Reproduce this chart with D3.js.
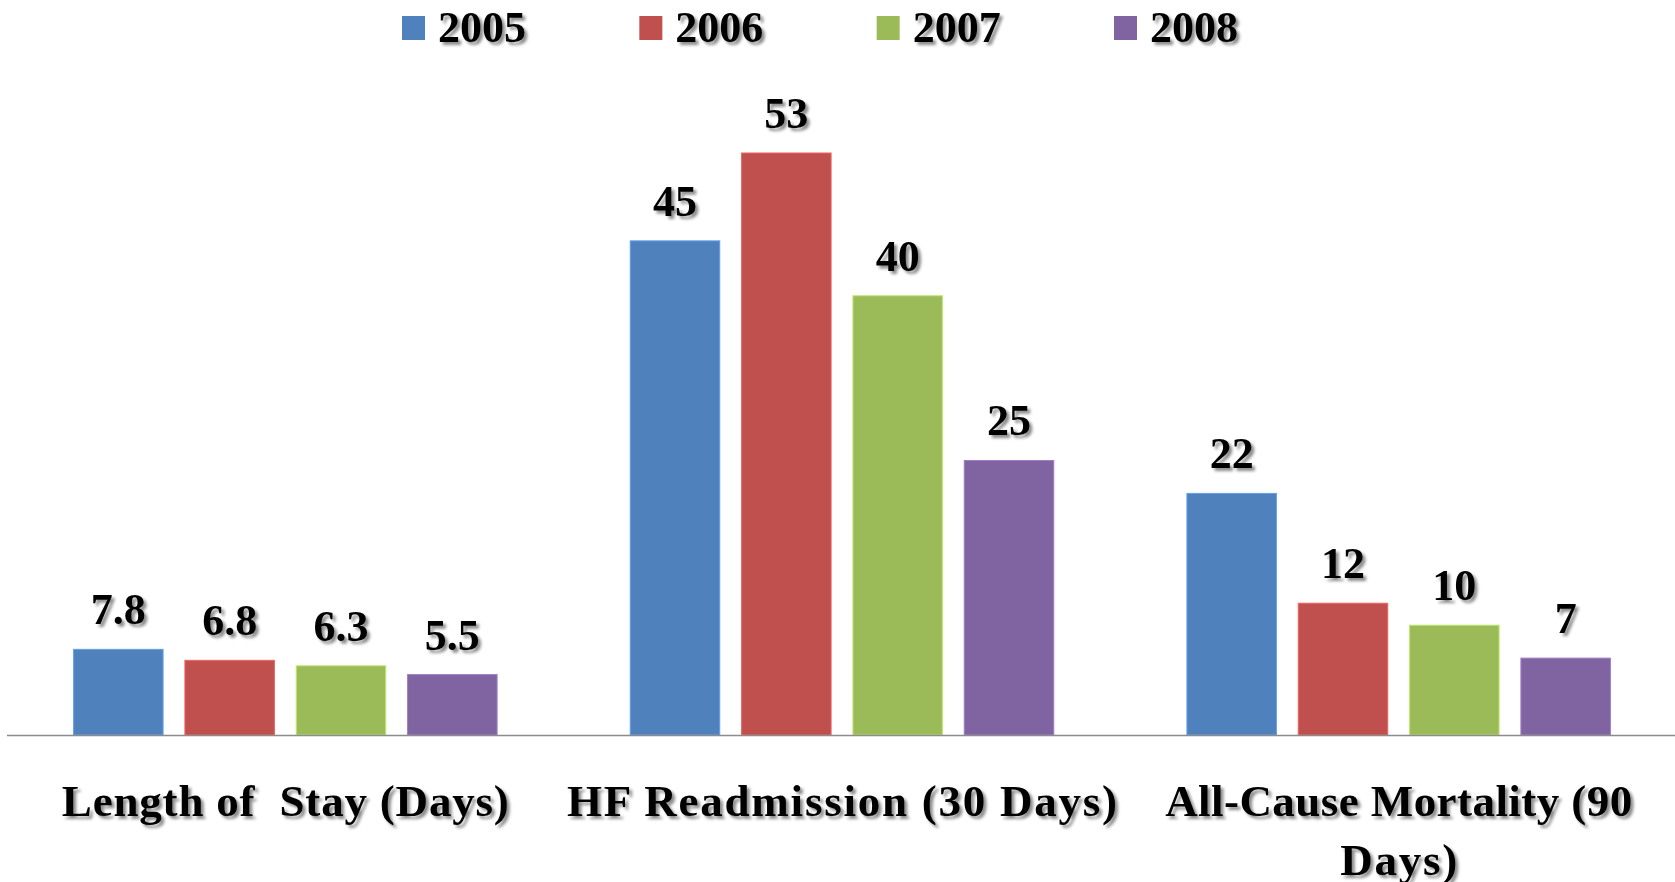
<!DOCTYPE html>
<html>
<head>
<meta charset="utf-8">
<script src="https://cdn.jsdelivr.net/npm/d3@7"></script>
<style>
  html, body { margin: 0; padding: 0; background: #ffffff; }
  svg { display: block; }
  text { font-family: "Liberation Serif", "DejaVu Serif", serif; font-weight: bold; fill: #000; }
</style>
</head>
<body>
<script>
// Quality metrics by year
const categories = ["Length of Stay (Days)", "HF Readmission (30 Days)", "All-Cause Mortality (90 Days)"];
const categoryLines = [["Length of  Stay (Days)"], ["HF Readmission (30 Days)"], ["All-Cause Mortality (90", "Days)"]];
const categoryLineWidths = [[447], [550], [467, 117]];
const years = ["2005", "2006", "2007", "2008"];
const values2005 = [7.8, 45, 22];
const values2006 = [6.8, 53, 12];
const values2007 = [6.3, 40, 10];
const values2008 = [5.5, 25, 7];
const valueLabels = [["7.8", "45", "22"], ["6.8", "53", "12"], ["6.3", "40", "10"], ["5.5", "25", "7"]];
const colors = ["#4F81BD", "#C0504D", "#9BBB59", "#8064A2"];

const seriesValues = [values2005, values2006, values2007, values2008];

const W = 1675, H = 882;
const svg = d3.select("body").append("svg").attr("width", W).attr("height", H);

// soft drop shadow used on all text
const defs = svg.append("defs");
const f = defs.append("filter").attr("id", "shadow")
  .attr("x", "-10%").attr("y", "-20%").attr("width", "130%").attr("height", "150%");
f.append("feDropShadow").attr("dx", 3).attr("dy", 3).attr("stdDeviation", 1.6)
  .attr("flood-color", "#000").attr("flood-opacity", 0.45);

const baseY = 735;
const x0 = d3.scaleBand().domain(categories).range([7, 1677]).paddingInner(0).paddingOuter(0);
const x1 = d3.scaleBand().domain(years).range([0, x0.bandwidth()]).paddingInner(0.196).paddingOuter(0.598);
const y = d3.scaleLinear().domain([0, 53]).range([baseY, 153]);

// bars
const groups = svg.selectAll("g.cat").data(categories).join("g")
  .attr("class", "cat").attr("transform", d => `translate(${x0(d)},0)`);

years.forEach((yr, si) => {
  groups.append("rect")
    .attr("x", x1(yr))
    .attr("y", (d, ci) => y(seriesValues[si][ci]))
    .attr("width", x1.bandwidth())
    .attr("height", (d, ci) => baseY - y(seriesValues[si][ci]))
    .attr("fill", colors[si])
    .attr("stroke", d3.color(colors[si]).brighter(0.6))
    .attr("stroke-width", 1);

  groups.append("text")
    .attr("x", x1(yr) + x1.bandwidth() / 2)
    .attr("y", (d, ci) => y(seriesValues[si][ci]) - 25)
    .attr("text-anchor", "middle")
    .attr("font-size", 44)
    .attr("filter", "url(#shadow)")
    .text((d, ci) => valueLabels[si][ci]);
});

// category axis line
svg.append("line")
  .attr("x1", 7).attr("x2", W).attr("y1", baseY + 0.5).attr("y2", baseY + 0.5)
  .attr("stroke", "#8c8c8c").attr("stroke-width", 1.5);

// category labels
categories.forEach((c, i) => {
  const cx = x0(c) + x0.bandwidth() / 2;
  const t = svg.append("text")
    .attr("y", 816)
    .attr("text-anchor", "middle")
    .attr("font-size", 45)
    .attr("filter", "url(#shadow)")
    .style("white-space", "pre");
  categoryLines[i].forEach((ln, li) => {
    t.append("tspan").attr("x", cx).attr("dy", li === 0 ? 0 : 59)
      .attr("textLength", categoryLineWidths[i][li]).attr("lengthAdjust", "spacing")
      .text(ln);
  });
});

// legend
const legendX = d3.scalePoint().domain(years).range([402, 1114]);
const lg = svg.selectAll("g.leg").data(years).join("g").attr("class", "leg")
  .attr("transform", d => `translate(${legendX(d)},0)`);
lg.append("rect").attr("x", 0).attr("y", 16).attr("width", 23).attr("height", 24)
  .attr("fill", (d, i) => colors[i]);
lg.append("text").attr("x", 36).attr("y", 42).attr("font-size", 44)
  .attr("filter", "url(#shadow)").text(d => d);
</script>
</body>
</html>
